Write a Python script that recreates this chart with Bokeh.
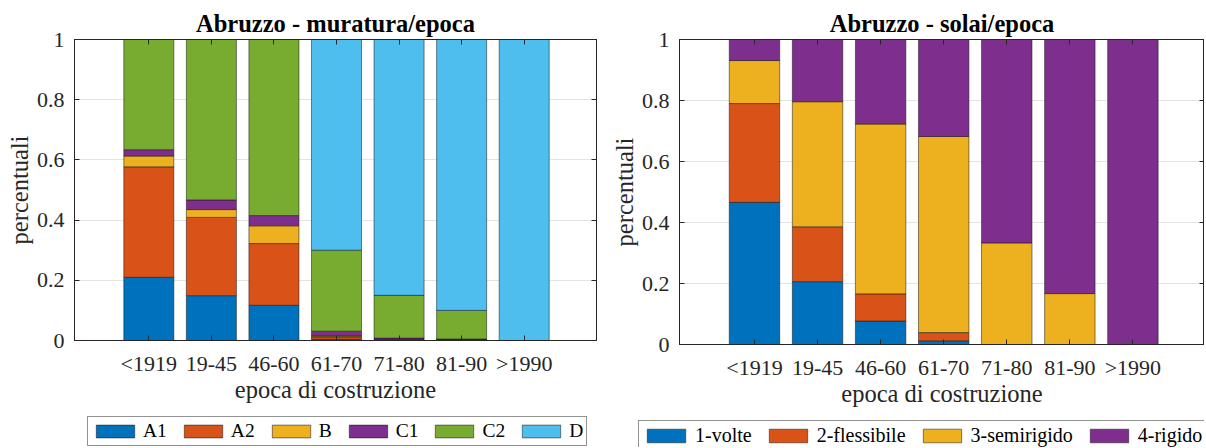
from bokeh.plotting import figure
from bokeh.layouts import row, column
from bokeh.models import (Range1d, LinearAxis, FixedTicker, Legend, LegendItem,
                          ColumnDataSource, CustomJSTickFormatter)
from bokeh.embed import file_html
from bokeh.resources import INLINE

# ---------------- data ----------------
epoche = ["<1919", "19-45", "46-60", "61-70", "71-80", "81-90", ">1990"]

mur_classi = ["A1", "A2", "B", "C1", "C2", "D"]
mur_A1 = [0.210, 0.149, 0.117, 0.004, 0.001, 0.001, 0.0]
mur_A2 = [0.367, 0.260, 0.205, 0.008, 0.001, 0.001, 0.0]
mur_B = [0.036, 0.026, 0.059, 0.003, 0.001, 0.000, 0.0]
mur_C1 = [0.021, 0.032, 0.034, 0.016, 0.005, 0.003, 0.0]
mur_C2 = [0.366, 0.533, 0.585, 0.269, 0.142, 0.095, 0.0]
mur_D = [0.000, 0.000, 0.000, 0.700, 0.850, 0.900, 1.0]

sol_classi = ["1-volte", "2-flessibile", "3-semirigido", "4-rigido"]
sol_volte = [0.466, 0.206, 0.077, 0.012, 0.0, 0.0, 0.0]
sol_flessibile = [0.324, 0.180, 0.089, 0.027, 0.0, 0.0, 0.0]
sol_semirigido = [0.141, 0.410, 0.557, 0.643, 0.333, 0.167, 0.0]
sol_rigido = [0.069, 0.204, 0.277, 0.318, 0.667, 0.833, 1.0]

y_ticks = [0, 0.2, 0.4, 0.6, 0.8, 1]

# ---------------- style ----------------
FONT = "Liberation Serif"
TXT = "#262626"
EDGE = "#262626"
COLORS = ["#0072BD", "#D95319", "#EDB120", "#7E2F8E", "#77AC30", "#4DBEEE"]
TOP = 39
MAIN_H = 410
LEG_H = 37


def style_axis(ax, ticks):
    ax.ticker = FixedTicker(ticks=ticks)
    ax.major_tick_in = 5
    ax.major_tick_out = 0
    ax.minor_tick_line_color = None
    ax.axis_line_color = EDGE
    ax.axis_line_width = 1
    ax.major_tick_line_color = EDGE
    ax.major_label_text_font = FONT
    ax.major_label_text_font_size = "22px"
    ax.major_label_text_color = TXT
    ax.axis_label_text_font = FONT
    ax.axis_label_text_font_size = "24.5px"
    ax.axis_label_text_font_style = "normal"
    ax.axis_label_text_color = TXT


def blank_axis(ticks):
    ax = LinearAxis()
    style_axis(ax, ticks)
    ax.formatter = CustomJSTickFormatter(code="return '';")
    ax.major_label_text_font_size = "0px"
    ax.major_label_standoff = 0
    return ax


def build_source(serie):
    data = {"x": list(range(1, len(epoche) + 1))}
    keys = []
    for i, s in enumerate(serie):
        data[f"s{i}"] = s
        keys.append(f"s{i}")
    return ColumnDataSource(data), keys


def make_chart(titolo, src, keys, x_start, x_end, frame_w, frame_h,
               border_left, border_right, title_offset):
    x = list(range(1, len(epoche) + 1))
    p = figure(title=titolo, frame_width=frame_w, frame_height=frame_h,
               x_range=Range1d(x_start, x_end), y_range=Range1d(0, 1),
               output_backend="svg", toolbar_location=None,
               min_border_left=border_left, min_border_right=border_right,
               min_border_top=TOP, min_border_bottom=MAIN_H - TOP - frame_h)
    p.outline_line_color = EDGE
    p.outline_line_width = 1

    p.vbar_stack(keys, x="x", width=0.8, source=src,
                 fill_color=COLORS[:len(keys)], line_color="#111111",
                 line_width=0.5)

    xa = p.xaxis[0]
    style_axis(xa, x)
    xa.major_label_overrides = {i + 1: e for i, e in enumerate(epoche)}
    xa.major_label_standoff = 10
    xa.axis_label = "epoca di costruzione"
    xa.axis_label_standoff = -3

    ya = p.yaxis[0]
    style_axis(ya, y_ticks)
    ya.formatter = CustomJSTickFormatter(code="return String(Number(tick.toFixed(2)));")
    ya.major_label_standoff = 10
    ya.axis_label = "percentuali"
    ya.axis_label_standoff = 1

    p.add_layout(blank_axis(x), "above")
    p.add_layout(blank_axis(y_ticks), "right")

    p.xgrid.visible = False
    p.ygrid.ticker = FixedTicker(ticks=y_ticks)
    p.ygrid.grid_line_color = "#e3e3e3"
    p.ygrid.grid_line_width = 1

    p.title.text = titolo
    p.title.text_font = FONT
    p.title.text_font_size = "24.5px"
    p.title.text_font_style = "bold"
    p.title.text_color = "#000000"
    p.title.align = "center"
    p.title.standoff = 5
    p.title.offset = title_offset
    return p


def make_legend(classi, src, keys, width, leg_x, leg_y, font_size, glyph_h,
                standoff, spacing):
    # legend strip: the stacked bars are drawn out of view (y range above 1),
    # only their legend swatches are shown
    q = figure(width=width, height=LEG_H, x_axis_type=None, y_axis_type=None,
               x_range=Range1d(0, 8), y_range=Range1d(2, 3),
               output_backend="svg", toolbar_location=None, min_border=0)
    q.outline_line_color = None
    rs = q.vbar_stack(keys, x="x", width=0.8, source=src,
                      fill_color=COLORS[:len(keys)], line_color="#111111",
                      line_width=0.5)
    items = [LegendItem(label=c, renderers=[r]) for c, r in zip(classi, rs)]
    leg = Legend(items=items, orientation="horizontal", location=(leg_x, leg_y))
    leg.glyph_width = 48
    leg.glyph_height = glyph_h
    leg.label_standoff = standoff
    leg.label_width = 8
    leg.spacing = spacing
    leg.padding = 3
    leg.margin = 0
    leg.label_text_font = FONT
    leg.label_text_font_size = font_size
    leg.label_text_color = "#000000"
    leg.border_line_color = EDGE
    leg.border_line_width = 1
    leg.background_fill_color = "white"
    leg.background_fill_alpha = 1
    q.add_layout(leg)
    return q


src_mur, keys_mur = build_source([mur_A1, mur_A2, mur_B, mur_C1, mur_C2, mur_D])
src_sol, keys_sol = build_source([sol_volte, sol_flessibile, sol_semirigido, sol_rigido])

left = make_chart("Abruzzo - muratura/epoca", src_mur, keys_mur,
                  -0.188, 8.156, 522, 301, 74, 4, 0)
right = make_chart("Abruzzo - solai/epoca", src_sol, keys_sol,
                   -0.189, 8.135, 525, 305, 79, 0, 0)

leg_left = make_legend(mur_classi, src_mur, keys_mur, 600, 87, 1,
                       "19.5px", 16, 4, 12)
leg_right = make_legend(sol_classi, src_sol, keys_sol, 604, 38, -4,
                        "20px", 17, 5, 12)

layout = column(row(left, right, spacing=0), row(leg_left, leg_right, spacing=0),
                spacing=0)
open("out.html", "w").write(file_html(layout, INLINE))
